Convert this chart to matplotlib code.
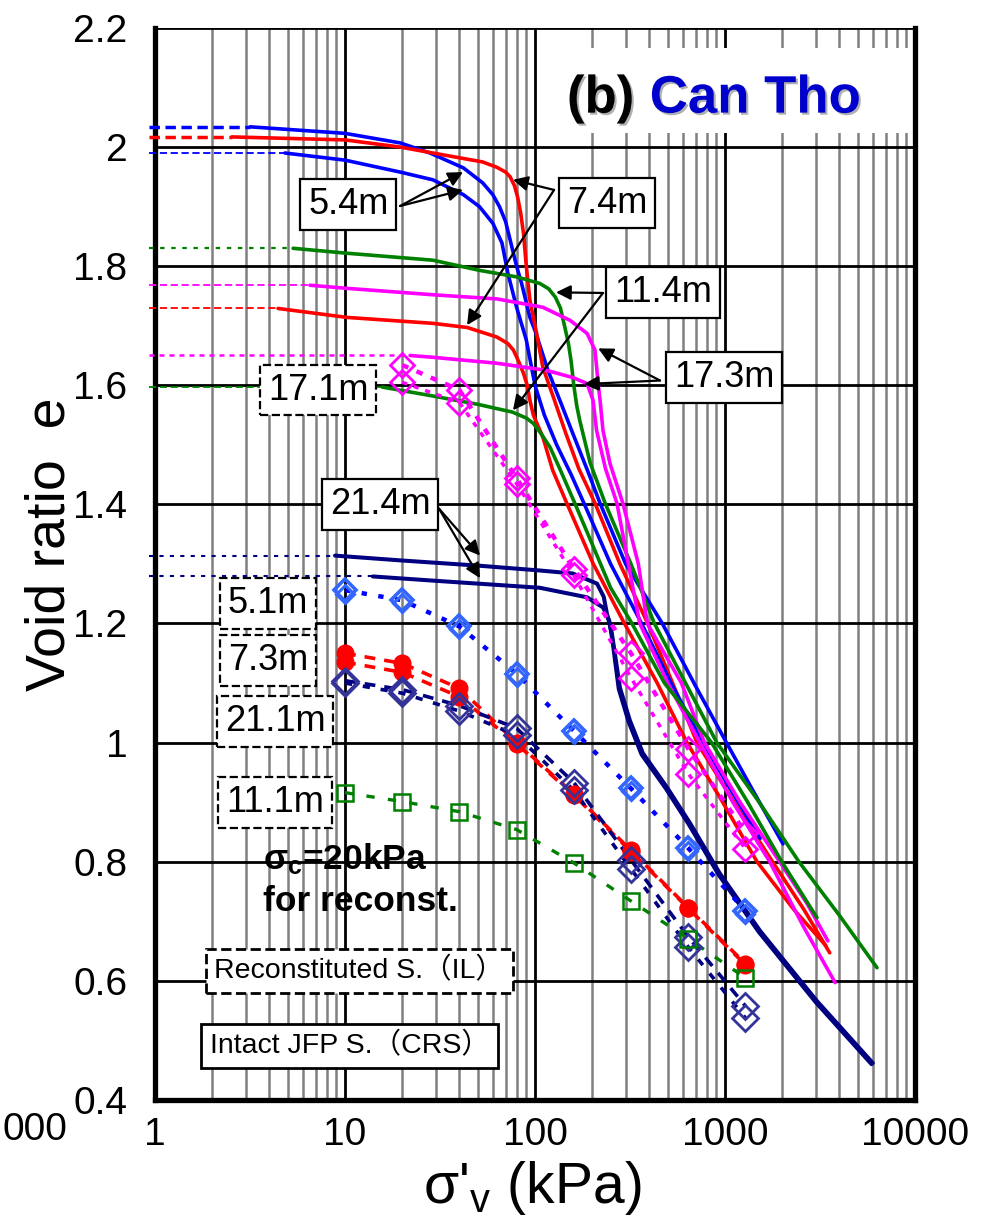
import numpy as np
import matplotlib.pyplot as plt
from matplotlib.ticker import LogLocator, MultipleLocator, FuncFormatter, NullFormatter
from matplotlib.patches import Rectangle
from matplotlib import patheffects

plt.rcParams['font.family'] = ['Liberation Sans', 'Noto Sans CJK JP', 'DejaVu Sans']
plt.rcParams['mathtext.fontset'] = 'custom'
plt.rcParams['mathtext.rm'] = 'Liberation Sans'
plt.rcParams['mathtext.it'] = 'Liberation Sans'
plt.rcParams['mathtext.bf'] = 'Liberation Sans:bold'

# ---------------- intact JFP samples (CRS), sigma'v (kPa) / e ----------------
s_54a = [3.16, 10, 19.5, 28, 42, 53, 60, 65, 70, 74, 80, 85, 94, 100, 117, 137, 160, 190, 220, 300,
         468, 700, 1018, 1400, 2020]
e_54a = [2.034, 2.023, 2.007, 1.99, 1.965, 1.94, 1.92, 1.90, 1.875, 1.844, 1.80, 1.771, 1.714, 1.692,
         1.625, 1.57, 1.515, 1.455, 1.402, 1.30, 1.2, 1.095, 1.0, 0.92, 0.830]
s_54b = [4.83, 10, 19.5, 29, 42, 51, 60, 67, 72, 80, 90, 100, 112, 130, 155, 181, 250, 364, 520, 764,
         1100, 1530]
e_54b = [1.99, 1.978, 1.958, 1.945, 1.92, 1.90, 1.872, 1.839, 1.788, 1.731, 1.676, 1.60, 1.55, 1.50,
         1.45, 1.402, 1.30, 1.2, 1.10, 1.0, 0.915, 0.839]
s_74a = [2.54, 10, 19.5, 29, 53, 63, 70, 74, 78, 81, 84, 87, 90, 94, 102, 110, 125, 145, 170, 207,
         280, 392, 530, 713, 1100, 1780, 2600, 3560]
e_74a = [2.017, 2.012, 2.0, 1.99, 1.975, 1.966, 1.958, 1.95, 1.935, 1.916, 1.89, 1.855, 1.80, 1.743,
         1.687, 1.63, 1.58, 1.52, 1.46, 1.402, 1.30, 1.2, 1.10, 1.0, 0.903, 0.8, 0.72, 0.647]
s_74b = [4.44, 10.2, 29, 44, 63, 72, 77, 82, 87, 91, 94, 98, 110, 124, 147, 202, 290, 440, 631, 960,
         1475, 2300, 3400]
e_74b = [1.729, 1.714, 1.704, 1.697, 1.681, 1.67, 1.659, 1.64, 1.62, 1.60, 1.575, 1.55, 1.513, 1.457,
         1.402, 1.301, 1.205, 1.10, 1.0, 0.903, 0.8, 0.72, 0.659]
s_114 = [5.33, 10, 29, 51, 80, 106, 118, 128, 136, 143, 150, 155, 160, 166, 172, 195, 234, 320, 425,
         620, 906, 1490, 2450, 4000, 6310]
e_114 = [1.830, 1.822, 1.810, 1.793, 1.782, 1.771, 1.762, 1.748, 1.73, 1.70, 1.67, 1.64, 1.60, 1.565,
         1.541, 1.47, 1.402, 1.30, 1.2, 1.10, 1.0, 0.903, 0.8, 0.71, 0.622]
s_171 = [15.7, 29, 50, 76, 90, 98, 107, 120, 135, 162, 202, 250, 324, 480, 850, 1300, 1990, 3050]
e_171 = [1.597, 1.582, 1.568, 1.555, 1.545, 1.536, 1.52, 1.496, 1.46, 1.402, 1.33, 1.26, 1.2, 1.10,
         1.0, 0.903, 0.8, 0.706]
s_173a = [6.54, 10, 29, 63, 110, 153, 188, 207, 215, 220, 228, 248, 290, 350, 390, 590, 780, 1200,
          1940, 2700, 3480]
e_173a = [1.768, 1.763, 1.752, 1.745, 1.731, 1.709, 1.687, 1.659, 1.603, 1.575, 1.524, 1.469, 1.402,
          1.30, 1.2, 1.10, 1.0, 0.9, 0.8, 0.73, 0.667]
s_173b = [22, 29, 63, 115, 158, 188, 202, 211, 235, 270, 310, 356, 500, 737, 1100, 1720, 2600, 3800]
e_173b = [1.650, 1.647, 1.637, 1.625, 1.613, 1.603, 1.575, 1.524, 1.46, 1.402, 1.30, 1.2, 1.10, 1.0,
          0.9, 0.8, 0.69, 0.597]
s_214a = [8.86, 19.5, 51, 106, 158, 212, 230, 239, 254, 280, 316, 370, 495, 654, 941, 1530, 3050, 6000]
e_214a = [1.314, 1.306, 1.297, 1.289, 1.284, 1.267, 1.245, 1.217, 1.183, 1.092, 1.037, 0.982, 0.925,
          0.865, 0.780, 0.684, 0.566, 0.462]
s_214b = [14, 29, 106, 188, 228, 246, 256, 276, 311, 364, 488, 644, 927, 1507, 3005, 5910]
e_214b = [1.279, 1.272, 1.26, 1.244, 1.227, 1.205, 1.17, 1.09, 1.035, 0.98, 0.923, 0.863, 0.778,
          0.682, 0.564, 0.460]

# ---------------- reconstituted samples (IL) ----------------
s_il = [10, 20, 40, 80, 160, 320, 640, 1280]
e_51a = [1.256, 1.239, 1.195, 1.116, 1.02, 0.923, 0.823, 0.718]
e_51b = [1.250, 1.234, 1.190, 1.110, 1.015, 0.918, 0.818, 0.713]
e_73a = [1.150, 1.133, 1.091, 1.0, 0.914, 0.819, 0.723, 0.629]
e_73b = [1.135, 1.118, 1.077, 0.998, 0.912, 0.817, 0.722, 0.627]
e_211a = [1.104, 1.089, 1.062, 1.024, 0.933, 0.803, 0.674, 0.558]
e_211b = [1.100, 1.083, 1.053, 1.012, 0.920, 0.788, 0.657, 0.538]
e_111 = [0.916, 0.901, 0.884, 0.854, 0.798, 0.734, 0.671, 0.605]
s_il_m = [20, 40, 80, 160, 320, 640, 1280]
e_mag_a = [1.634, 1.592, 1.444, 1.292, 1.150, 0.990, 0.849]
e_mag_b = [1.605, 1.571, 1.435, 1.281, 1.109, 0.948, 0.822]

x_left = 0.93   # dashed lead-in lines start just left of the axis

fig = plt.figure(figsize=(9.9, 12.15), dpi=100)
ax = fig.add_axes([0.1566, 0.0947, 0.7676, 0.8823])
ax.set_xscale('log')
ax.set_xlim(1, 10000)
ax.set_ylim(0.4, 2.2)

# -------- CRS curves + lead-in lines --------
crs = [
    (s_54a, e_54a, 'blue', 2.6, (0, (3, 1.6)), 2.5),
    (s_74a, e_74a, 'red', 2.6, (0, (3, 1.6)), 2.5),
    (s_54b, e_54b, 'blue', 2.6, (0, (4, 2)), 1.3),
    (s_114, e_114, 'green', 2.6, (0, (2, 3)), 1.6),
    (s_173a, e_173a, 'magenta', 2.6, (0, (4, 2)), 1.3),
    (s_74b, e_74b, 'red', 2.6, (0, (4, 2)), 1.3),
    (s_173b, e_173b, 'magenta', 2.6, (0, (2, 2)), 1.8),
    (s_171, e_171, 'green', 2.6, (0, (4, 2)), 1.3),
    (s_214a, e_214a, 'navy', 2.9, (0, (2, 3)), 1.5),
    (s_214b, e_214b, 'navy', 2.9, (0, (2, 3)), 1.5),
]
for s, e, c, lw, ls0, lw0 in crs:
    ax.plot([x_left, s[0]], [e[0], e[0]], color=c, lw=lw0, ls=ls0, clip_on=False, zorder=3)
    ax.plot(s, e, color=c, lw=lw, solid_capstyle='round', solid_joinstyle='round', zorder=4)

# -------- IL data --------
ax.plot(s_il, e_51a, color='blue', lw=3.2, ls=(0, (1.2, 2.6)), zorder=5)
ax.plot(s_il, e_51a, 'D', ms=11, mfc='none', mec='#3366FF', mew=2.6, zorder=6)
ax.plot(s_il, e_51b, 'D', ms=9, mfc='none', mec='#3366FF', mew=2.2, zorder=6)

ax.plot(s_il, e_73a, color='red', lw=2.6, ls=(0, (3, 2.5)), zorder=5)
ax.plot(s_il, e_73b, color='red', lw=2.6, ls=(0, (3, 2.5)), zorder=5)
ax.plot(s_il, e_73a, 'o', ms=12, color='red', zorder=6)
ax.plot(s_il, e_73b, 'o', ms=12, color='red', zorder=6)

ax.plot(s_il, e_211a, color='#000080', lw=2.6, ls=(0, (3, 2.5)), zorder=5)
ax.plot(s_il, e_211b, color='#000080', lw=2.6, ls=(0, (2, 3)), zorder=5)
ax.plot(s_il, e_211a, 'D', ms=13, mfc='none', mec='#333399', mew=2, zorder=6)
ax.plot(s_il, e_211b, 'D', ms=13, mfc='none', mec='#333399', mew=2, zorder=6)

ax.plot(s_il, e_111, color='green', lw=2.4, ls=(0, (2.5, 4)), zorder=5)
ax.plot(s_il, e_111, 's', ms=11, mfc='none', mec='green', mew=1.8, zorder=6)

ax.plot(s_il_m, e_mag_a, color='magenta', lw=3.2, ls=(0, (1.5, 2)), zorder=5)
ax.plot(s_il_m, e_mag_b, color='magenta', lw=2.5, ls=(0, (1.5, 2)), zorder=5)
ax.plot(s_il_m, e_mag_a, 'D', ms=12, mfc='none', mec='magenta', mew=2, zorder=6)
ax.plot(s_il_m, e_mag_b, 'D', ms=12, mfc='none', mec='magenta', mew=2, zorder=6)

# -------- axes styling --------
ax.xaxis.set_major_locator(LogLocator(base=10, numticks=10))
ax.xaxis.set_minor_locator(LogLocator(base=10, subs=np.arange(2, 10), numticks=50))
ax.xaxis.set_minor_formatter(NullFormatter())
ax.xaxis.set_major_formatter(FuncFormatter(lambda v, p: '%d' % round(v)))
ax.yaxis.set_major_locator(MultipleLocator(0.2))
ax.yaxis.set_major_formatter(FuncFormatter(lambda v, p: '%g' % round(v, 1)))
ax.grid(which='minor', axis='x', color='#808080', lw=1.8)
ax.grid(which='major', color='black', lw=2)
ax.set_axisbelow(True)
ax.tick_params(which='both', length=0)
ax.tick_params(axis='y', labelsize=28, pad=20)
ax.tick_params(axis='x', labelsize=28, pad=12)
for side in ['left', 'bottom', 'right']:
    ax.spines[side].set_linewidth(3.8)
ax.spines['top'].set_visible(False)

ax.set_ylabel('Void ratio  e', fontsize=40)
ax.yaxis.set_label_coords(-0.103, 0.518)
ax.set_xlabel(r"σ'$_\mathregular{v}$ (kPa)", fontsize=41, va='center')
ax.xaxis.set_label_coords(0.496, -0.082)
fig.text(0.003, 1 - 1130 / 1215, '000', ha='left', va='center', fontsize=28)

# -------- title box --------
ax.add_patch(Rectangle((0.52, 0.902), 0.48, 0.079, transform=ax.transAxes,
                       facecolor='white', edgecolor='none', zorder=2))
shadow = [patheffects.SimplePatchShadow(offset=(1.5, -1.5), shadow_rgbFace='#B0B0B0', alpha=1),
          patheffects.Normal()]
ax.text(0.542, 0.921, '(b)', transform=ax.transAxes, fontsize=38, fontweight='bold',
        color='black', va='baseline', zorder=7, path_effects=shadow)
ax.text(0.651, 0.921, 'Can Tho', transform=ax.transAxes, fontsize=38, fontweight='bold',
        color='#0000CC', va='baseline', zorder=7, path_effects=shadow)

# -------- labels with arrows --------
solid_box = dict(boxstyle='square,pad=0.22', fc='white', ec='black', lw=1.6)
dash_box = dict(boxstyle='square,pad=0.22', fc='white', ec='black', lw=1.6, ls='--')
arrow = dict(arrowstyle='-|>', color='black', lw=1.6, mutation_scale=22, shrinkA=0, shrinkB=0)

labels = [
    ('5.4m', (10.4, 1.903), (19.5, 1.901), [(41.8, 1.958), (41.8, 1.928)]),
    ('7.4m', (239, 1.906), (126, 1.928), [(76.6, 1.945), (43.9, 1.701)]),
    ('11.4m', (472, 1.756), (228, 1.755), [(129, 1.756), (76.6, 1.558)]),
    ('17.3m', (988, 1.613), (455, 1.608), [(215, 1.662), (181, 1.602)]),
    ('21.4m', (15.3, 1.40), (31.2, 1.393), [(51.4, 1.314), (51.4, 1.276)]),
]
for txt, pos, tail, heads in labels:
    for h in heads:
        ax.annotate('', xy=h, xytext=tail, arrowprops=arrow, zorder=8)
    ax.text(pos[0], pos[1], txt, fontsize=26, ha='center', va='center', bbox=solid_box, zorder=9)

for txt, pos in [('17.1m', (7.21, 1.592)), ('5.1m', (3.93, 1.234)), ('7.3m', (3.93, 1.138)),
                 ('21.1m', (4.28, 1.035)), ('11.1m', (4.28, 0.899))]:
    ax.text(pos[0], pos[1], txt, fontsize=26, ha='center', va='center', bbox=dash_box, zorder=9)

ax.text(3.7, 0.805, r'$\mathbf{σ_c}$=20kPa', fontsize=25.5, fontweight='bold', ha='left', va='center', zorder=9)
ax.text(3.7, 0.734, 'for reconst.', fontsize=25.5, fontweight='bold', ha='left', va='center', zorder=9)
ax.text(11.9, 0.617, 'Reconstituted S.（IL）', fontsize=20.5, ha='center', va='center',
        bbox=dict(boxstyle='square,pad=0.3', fc='white', ec='black', lw=2, ls='--'), zorder=9)
ax.text(10.6, 0.491, 'Intact JFP S.（CRS）', fontsize=20.5, ha='center', va='center',
        bbox=dict(boxstyle='square,pad=0.3', fc='white', ec='black', lw=2), zorder=9)

fig.savefig('out.png', dpi=100)
